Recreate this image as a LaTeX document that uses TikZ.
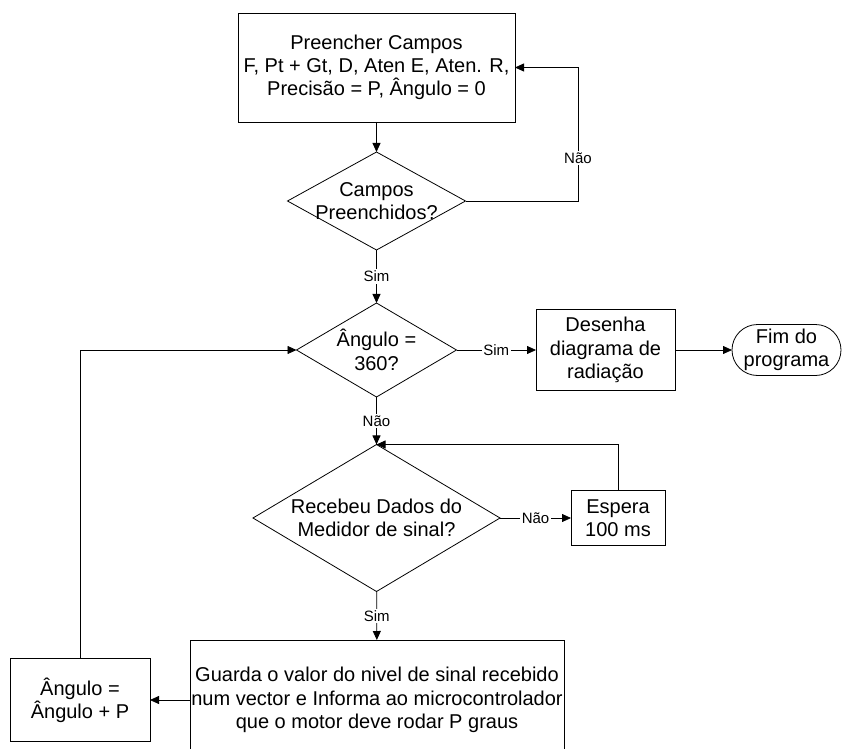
\documentclass[tikz,border=0pt]{standalone}
\usepackage{fontspec}
\setmainfont{Liberation Sans}
\usetikzlibrary{shapes.geometric,arrows.meta}

\begin{document}
\begin{tikzpicture}[x=1pt,y=-1pt,
  font=\fontsize{20}{23.3}\selectfont,
  every node/.style={align=center},
  box/.style={draw, line width=0.8pt, inner sep=0pt, outer sep=0pt},
  dia/.style={draw, diamond, line width=0.8pt, inner sep=0pt, outer sep=0pt},
  term/.style={draw, line width=0.8pt, rounded corners=25.5pt, inner sep=0pt, outer sep=0pt,
               minimum width=109pt, minimum height=51pt},
  flow/.style={line width=0.8pt, -{Triangle[length=9pt,width=8pt]}},
  lbl/.style={font=\fontsize{15}{17}\selectfont, fill=white, inner sep=1.5pt},
]
\useasboundingbox (0,0) rectangle (846,749);

% process boxes and decisions
\node[box, minimum width=277pt, minimum height=109pt] (fill) at (376.5,67.5)
  {Preencher Campos\\F, Pt + Gt, D, Aten E, Aten. R,\\Precisão = P, Ângulo = 0};

\node[dia, minimum width=178pt, minimum height=98pt] (d1) at (376.5,201) {};
\node at (d1) {Campos\\Preenchidos?};

\node[dia, minimum width=160pt, minimum height=94pt] (d2) at (376.5,350) {};
\node at (d2) {Ângulo =\\360?};

\node[box, minimum width=139pt, minimum height=81pt] (des) at (605.5,350)
  {Desenha\\diagrama de\\radiação};

\node[term] (term) at (786.5,350) {Fim do\\programa};

\node[dia, minimum width=247pt, minimum height=147pt] (d3) at (376.5,518) {};
\node at (d3) {Recebeu Dados do\\Medidor de sinal?};

\node[box, minimum width=94pt, minimum height=55pt] (esp) at (618,518)
  {Espera\\100 ms};

\node[box, minimum width=374pt, minimum height=120pt] (guarda) at (377,700)
  {Guarda o valor do nivel de sinal recebido\\num vector e Informa ao microcontrolador\\que o motor deve rodar P graus};

\node[box, minimum width=140pt, minimum height=83pt] (ang) at (80,700)
  {Ângulo =\\Ângulo + P};

% connectors
\draw[flow] (fill) -- (d1);
\draw[flow] (d1.east) -| node[lbl, pos=0.66] {Não} ([xshift=63pt]fill.east) -- (fill.east);
\draw[flow] (d1) -- node[lbl] {Sim} (d2);
\draw[flow] (d2) -- node[lbl] {Sim} (des);
\draw[flow] (des) -- (term);
\draw[flow] (d2) -- node[lbl] {Não} (d3);
\draw[flow] (d3) -- node[lbl] {Não} (esp);
\draw[flow] (esp.north) |- (d3.north);
\draw[flow] (d3) -- node[lbl] {Sim} (guarda);
\draw[flow] (guarda) -- (ang);
\draw[flow] (ang.north) |- (d2.west);
\end{tikzpicture}
\end{document}
